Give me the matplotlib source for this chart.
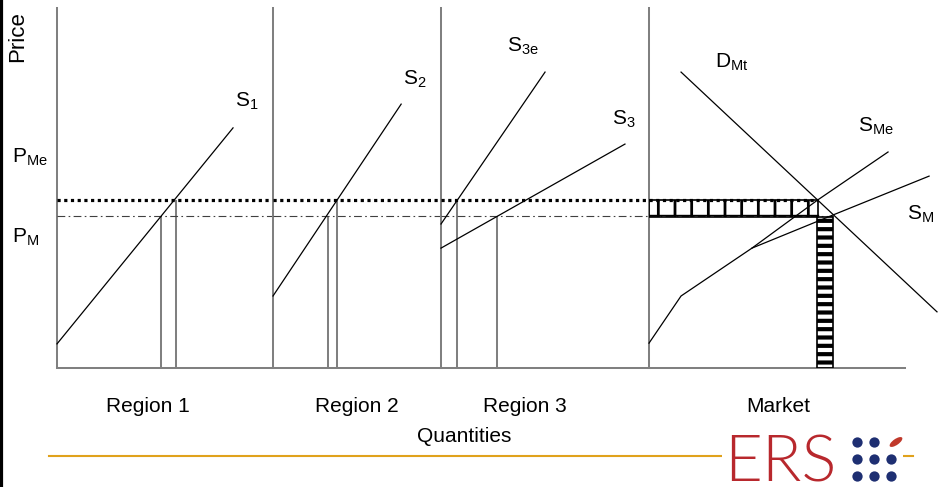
import matplotlib
matplotlib.use('Agg')
import matplotlib.pyplot as plt
import numpy as np
from matplotlib.patches import Rectangle, Ellipse

plt.rcParams['font.family'] = ['Liberation Sans', 'DejaVu Sans']
plt.rcParams['mathtext.fontset'] = 'custom'
plt.rcParams['mathtext.rm'] = 'Liberation Sans'
plt.rcParams['mathtext.it'] = 'Liberation Sans:italic'
plt.rcParams['mathtext.bf'] = 'Liberation Sans:bold'

# ---------------- data (quantity / price units) ----------------
PMe = 46.7          # price with export subsidy level
PM = 42.2           # market price
region_names = ['Region 1', 'Region 2', 'Region 3', 'Market']
axis_title_x = 'Quantities'
axis_title_y = 'Price'

s1_q = [0.0, 48.9];  s1_p = [6.7, 66.7]
s2_q = [0.0, 35.6];  s2_p = [20.0, 73.3]
s3e_q = [0.0, 28.9]; s3e_p = [40.0, 82.2]
s3_q = [0.0, 51.1];  s3_p = [33.3, 62.2]

q_at_PM = [28.9, 15.2, 15.6]     # regions 1..3
q_at_PMe = [33.0, 17.8, 4.4]

d_q = [8.9, 80.0];               d_p = [82.2, 15.6]
sme_q = [28.6, 46.9, 66.4];      sme_p = [33.3, 46.7, 60.0]
sm_q = [0.0, 8.9, 28.6, 51.1, 77.8]; sm_p = [6.9, 20.0, 33.3, 42.5, 53.3]

box_q = [0.0, 46.9];  box_p = [41.9, 46.7]     # hatched horizontal block
col_q = [46.7, 51.1]; col_p = [0.0, 41.9]      # hatched vertical block

# ---------------- layout ----------------
W, H = 953, 487
UNIT = 3.6                      # pixels per unit
base_px, top_px = 368, 8
edges = [57, 273, 441, 649, 953]
GRAY = '#808080'

fig = plt.figure(figsize=(W / 100, H / 100), dpi=100)
axes = []
for i in range(4):
    l, r = edges[i], edges[i + 1]
    ax = fig.add_axes([l / W, 1 - base_px / H, (r - l) / W, (base_px - top_px) / H])
    ax.set_xlim(0, (r - l) / UNIT)
    ax.set_ylim(0, (base_px - top_px) / UNIT)
    ax.patch.set_visible(False)
    for s in ['top', 'right']:
        ax.spines[s].set_visible(False)
    for s in ['left', 'bottom']:
        ax.spines[s].set_color(GRAY)
        ax.spines[s].set_linewidth(1.45)
    ax.set_xticks([]); ax.set_yticks([])
    axes.append(ax)
axes[3].spines['bottom'].set_bounds(0, (905 - 649) / UNIT)

dot_kw = dict(color='black', lw=2.3, ls=(0, (1, 1.1)), dash_capstyle='butt', zorder=4)
dd_kw = dict(color='#404040', lw=0.8, ls=(0, (7, 3, 1.5, 3)), zorder=3)
line_kw = dict(color='black', lw=0.9, clip_on=False, zorder=5)
vkw = dict(color=GRAY, lw=1.45, zorder=2)
lab_kw = dict(fontsize=15, ha='left', va='baseline', clip_on=False)

for ax in axes[:3]:
    ax.axhline(PMe, **dot_kw)
    ax.axhline(PM, **dd_kw)

# Region 1
a = axes[0]
a.plot(s1_q, s1_p, **line_kw)
a.vlines(q_at_PM[0], 0, PM, **vkw)
a.vlines(q_at_PMe[0], 0, PMe, **vkw)
a.text(49.4, 72.5, r'$\mathregular{S_{1}}$', **lab_kw)
a.text(-10.8, 92.2, axis_title_y, rotation=90, ha='center', va='center', fontsize=16, clip_on=False)
a.text(-12.5, 56.9, r'$\mathregular{P_{Me}}$', **lab_kw)
a.text(-12.5, 34.7, r'$\mathregular{P_{M}}$', **lab_kw)

# Region 2
a = axes[1]
a.plot(s2_q, s2_p, **line_kw)
a.vlines(q_at_PM[1], 0, PM, **vkw)
a.vlines(q_at_PMe[1], 0, PMe, **vkw)
a.text(36.1, 78.6, r'$\mathregular{S_{2}}$', **lab_kw)

# Region 3
a = axes[2]
a.plot(s3e_q, s3e_p, **line_kw)
a.plot(s3_q, s3_p, **line_kw)
a.vlines(q_at_PM[2], 0, PM, **vkw)
a.vlines(q_at_PMe[2], 0, PMe, **vkw)
a.text(18.3, 87.8, r'$\mathregular{S_{3e}}$', **lab_kw)
a.text(47.5, 67.5, r'$\mathregular{S_{3}}$', **lab_kw)

# Market
a = axes[3]
a.plot([0, box_q[1]], [PMe, PMe], **dot_kw)
a.plot([0, col_q[1]], [PM, PM], **dd_kw)
plt.rcParams['hatch.linewidth'] = 2.0
box = Rectangle((box_q[0], box_p[0]), box_q[1] - box_q[0], box_p[1] - box_p[0],
                fill=False, hatch='|', edgecolor='black', lw=1.2, zorder=3)
if hasattr(box, 'set_hatch_linewidth'):
    box.set_hatch_linewidth(2.0)
a.add_patch(box)
a.plot([box_q[0], box_q[1]], [box_p[0] + 0.7] * 2, color='black', lw=1.0, zorder=3)
plt.rcParams['hatch.linewidth'] = 3.0
col = Rectangle((col_q[0], col_p[0]), col_q[1] - col_q[0], col_p[1] - col_p[0],
                fill=False, hatch='--', edgecolor='black', lw=1.2, zorder=3)
if hasattr(col, 'set_hatch_linewidth'):
    col.set_hatch_linewidth(3.0)
a.add_patch(col)
a.plot(d_q, d_p, **line_kw)
a.plot(sme_q, sme_p, **line_kw)
a.plot(sm_q, sm_p, **line_kw)
a.text(18.3, 83.3, r'$\mathregular{D_{Mt}}$', **lab_kw)
a.text(58.1, 65.6, r'$\mathregular{S_{Me}}$', **lab_kw)
a.text(71.7, 41.1, r'$\mathregular{S_{M}}$', **lab_kw)

# ---------------- overlay: labels, rule, logo ----------------
ov = fig.add_axes([0, 0, 1, 1])
ov.set_xlim(0, W); ov.set_ylim(H, 0)
ov.axis('off')
ov.patch.set_visible(False)
for name, cx in zip(region_names, [148, 357, 525, 778]):
    ov.text(cx, 407, name, ha='center', va='center', fontsize=15)
ov.text(464, 437, axis_title_x, ha='center', va='center', fontsize=15)
ov.plot([1.5, 1.5], [0, H], color='black', lw=2.3)
ov.plot([49, 913], [456, 456], color='#E0A21C', lw=1.5, zorder=1)
ov.add_patch(Rectangle((722, 420), 181, 67, facecolor='white', edgecolor='none', zorder=2))
ov.text(724, 482, 'ERS', ha='left', va='baseline', fontsize=47, family=['Lato', 'Liberation Sans'],
        weight=300, color='#B8282D', zorder=3)
dot_x = [857, 874, 857, 874, 891, 857, 874, 891]
dot_y = [442, 442, 459, 459, 459, 476, 476, 476]
ov.scatter(dot_x, dot_y, s=55, color='#1E2F72', zorder=3, linewidths=0)
ov.add_patch(Ellipse((896, 442), 15, 6, angle=-35, facecolor='#C0392B', edgecolor='none', zorder=3))

fig.savefig('out.png', dpi=100)
